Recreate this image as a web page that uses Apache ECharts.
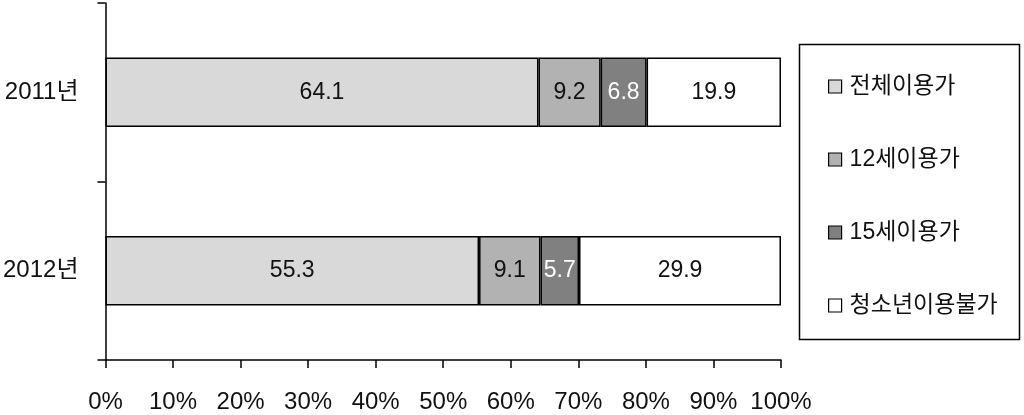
<!DOCTYPE html>
<html><head><meta charset="utf-8">
<script src="https://cdn.jsdelivr.net/npm/echarts@6/dist/echarts.min.js"></script>
<style>html,body{margin:0;padding:0;background:#fff}#c{width:1024px;height:415px}</style>
</head><body><div id="c"></div>
<script>
const categories = ['2011년', '2012년'];
const seriesNames = ['전체이용가', '12세이용가', '15세이용가', '청소년이용불가'];
const allAges = [64.1, 55.3];
const age12 = [9.2, 9.1];
const age15 = [6.8, 5.7];
const adultOnly = [19.9, 29.9];
const xTickLabels = ['0%', '10%', '20%', '30%', '40%', '50%', '60%', '70%', '80%', '90%', '100%'];

const colors = ['#d9d9d9', '#b2b2b2', '#808080', '#ffffff'];
const labelColors = ['#111', '#111', '#fff', '#111'];
const values = [allAges, age12, age15, adultOnly];
const FONT = '"Liberation Sans", "Noto Sans CJK KR", sans-serif';

const chart = echarts.init(document.getElementById('c'), null, {renderer: 'canvas'});
chart.setOption({
  animation: false,
  backgroundColor: '#fff',
  textStyle: {fontFamily: FONT},
  grid: {left: 105, right: 243, top: 3, bottom: 55, containLabel: false},
  xAxis: {
    type: 'value', min: 0, max: 100, interval: 10,
    axisLine: {show: true, lineStyle: {color: '#000', width: 1.5}},
    axisTick: {show: true, length: 8, lineStyle: {color: '#000', width: 1.5}},
    splitLine: {show: false},
    axisLabel: {margin: 30, fontSize: 24, color: '#111', fontFamily: FONT,
      formatter: function (v) { return xTickLabels[Math.round(v / 10)]; }}
  },
  yAxis: {
    type: 'category', data: categories, inverse: true,
    axisLine: {show: true, lineStyle: {color: '#000', width: 1.5}},
    axisTick: {show: true, length: 8, lineStyle: {color: '#000', width: 1.5}},
    axisLabel: {margin: 27, fontSize: 24, color: '#111', fontFamily: FONT}
  },
  legend: {
    orient: 'vertical', left: 823, top: 70,
    itemWidth: 13, itemHeight: 13, itemGap: 50,
    icon: 'rect',
    textStyle: {fontSize: 23, color: '#111', fontFamily: FONT, padding: [0, 0, 0, 3]},
    itemStyle: {borderColor: '#000', borderWidth: 1.2},
    data: seriesNames
  },
  graphic: [{
    type: 'rect', left: 797, top: 42,
    shape: {width: 220, height: 295},
    style: {fill: 'none', stroke: '#000', lineWidth: 1.5}, silent: true
  }],
  series: seriesNames.map((name, i) => ({
    name: name, type: 'bar', stack: 'total', barWidth: '39%',
    data: values[i],
    itemStyle: {color: colors[i], borderColor: '#000', borderWidth: 1.5},
    label: {show: true, position: 'inside', fontSize: 23, color: labelColors[i], fontFamily: FONT,
      formatter: function (p) { return p.value.toFixed(1); }}
  }))
});
</script></body></html>
